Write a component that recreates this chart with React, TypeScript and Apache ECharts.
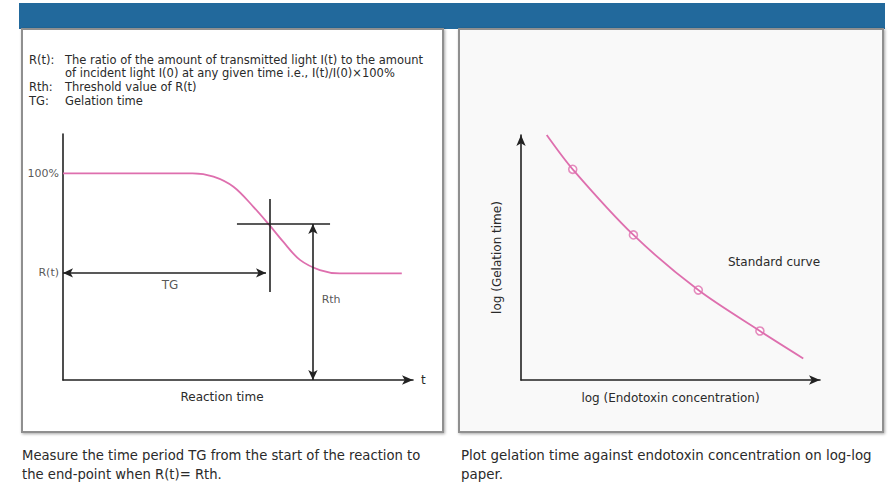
import React, { useEffect, useRef } from 'react';
import * as echarts from 'echarts';

// Left chart: transmittance R(t) versus reaction time
const reactionTime = [0, 37, 43, 48.7, 54.4, 58.7, 62.9, 67.7, 73.4, 79.1, 96.8];
const transmittance = [100, 100, 98.4, 93.5, 83.8, 75.5, 66.9, 58.1, 53.2, 51.6, 51.6];
const gelationTimeTG = 59;
const thresholdRth = 75.5;
const finalR = 51.8;
const rthArrowX = 71.4;

// Right chart: log-log standard curve
const logConc = [8.6, 17.3, 37.6, 59.3, 79.9, 94.4];
const logGelation = [100, 86, 59.2, 36.7, 20, 8.8];
const standardConc = [17.3, 37.6, 59.3, 79.9];
const standardGel = [86, 59.2, 36.7, 20];

const legendKeys = ['R(t):', '', 'Rth:', 'TG:'];
const legendTexts = [
  'The ratio of the amount of transmitted light I(t) to the amount',
  'of incident light I(0) at any given time i.e., I(t)/I(0)×100%',
  'Threshold value of R(t)',
  'Gelation time',
];
const captionLeft = [
  'Measure the time period TG from the start of the reaction to',
  'the end-point when R(t)= Rth.',
];
const captionRight = [
  'Plot gelation time against endotoxin concentration on log-log',
  'paper.',
];

const FONT = '"DejaVu Sans", "Liberation Sans", Arial, sans-serif';
const PINK = '#de6fae';
const INK = '#222';
const TXT = '#2a2a2a';

export default function App() {
  const ref = useRef<HTMLDivElement>(null);
  useEffect(() => {
    if (!ref.current) return;
    const chart = echarts.init(ref.current, undefined, { renderer: 'svg' });

    const txt = (text: string, x: number, y: number, size = 11, align = 'left') => ({
      type: 'text',
      silent: true,
      style: {
        text, x, y, fill: TXT,
        font: `${size}px ${FONT}`,
        textAlign: align, align, textVerticalAlign: 'middle', verticalAlign: 'middle',
      },
    });

    const graphics: any[] = [
      { type: 'rect', silent: true, shape: { x: 19, y: 3, width: 866, height: 26 }, style: { fill: '#22699c' } },
      {
        type: 'rect', silent: true, shape: { x: 22, y: 29, width: 421, height: 403 },
        style: { fill: '#ffffff', stroke: '#8f8f8f', lineWidth: 2, shadowBlur: 3, shadowColor: 'rgba(0,0,0,0.35)', shadowOffsetX: 1, shadowOffsetY: 1 },
      },
      {
        type: 'rect', silent: true, shape: { x: 459, y: 29, width: 424, height: 403 },
        style: { fill: '#f9f9f9', stroke: '#8f8f8f', lineWidth: 2, shadowBlur: 3, shadowColor: 'rgba(0,0,0,0.35)', shadowOffsetX: 1, shadowOffsetY: 1 },
      },
    ];
    const legendY = [60, 73, 87, 101];
    legendKeys.forEach((k, i) => { if (k) graphics.push(txt(k, 29, legendY[i], 11.5)); });
    legendTexts.forEach((t, i) => graphics.push(txt(t, 65, legendY[i], 11.5)));
    graphics.push(txt('Reaction time', 222, 397, 12, 'center'));
    graphics.push(txt('Standard curve', 728, 262, 12));
    captionLeft.forEach((t, i) => graphics.push(txt(t, 22, 455 + i * 19, 13.2)));
    captionRight.forEach((t, i) => graphics.push(txt(t, 461, 455 + i * 19, 13.4)));

    const axisLine = (arrow: boolean) => ({
      show: true,
      symbol: arrow ? ['none', 'arrow'] : ['none', 'none'],
      symbolSize: [7, 11],
      lineStyle: { color: INK, width: 1.6 },
    });
    const hidden = {
      axisTick: { show: false },
      axisLabel: { show: false },
      splitLine: { show: false },
    };
    const lbl = (formatter: string, position: string, fontSize: number) => ({
      show: true, formatter, position, distance: 4, fontSize, fontFamily: FONT,
      color: TXT, textBorderWidth: 0, textBorderColor: 'transparent',
    });

    chart.setOption({
      animation: false,
      backgroundColor: '#ffffff',
      textStyle: { fontFamily: FONT },
      graphic: { elements: graphics },
      grid: [
        { left: 63, top: 134, width: 350, height: 246 },
        { left: 521, top: 135, width: 299, height: 245 },
      ],
      xAxis: [
        {
          type: 'value', gridIndex: 0, min: 0, max: 100, ...hidden,
          axisLine: axisLine(true),
          name: 't', nameLocation: 'end', nameGap: 8,
          nameTextStyle: { color: TXT, fontSize: 12, fontFamily: FONT },
        },
        {
          type: 'value', gridIndex: 1, min: 0, max: 100, ...hidden,
          axisLine: axisLine(true),
          name: 'log (Endotoxin concentration)', nameLocation: 'middle', nameGap: 12,
          nameTextStyle: { color: TXT, fontSize: 12, fontFamily: FONT },
        },
      ],
      yAxis: [
        { type: 'value', gridIndex: 0, min: 0, max: 119, ...hidden, axisLine: axisLine(false) },
        {
          type: 'value', gridIndex: 1, min: 0, max: 100, ...hidden,
          axisLine: axisLine(true),
          name: 'log (Gelation time)', nameLocation: 'middle', nameGap: 18, nameRotate: 90,
          nameTextStyle: { color: TXT, fontSize: 12, fontFamily: FONT },
        },
      ],
      series: [
        {
          type: 'line', xAxisIndex: 0, yAxisIndex: 0, silent: true,
          data: reactionTime.map((x, i) => [x, transmittance[i]]),
          smooth: 0.35, showSymbol: false,
          lineStyle: { color: PINK, width: 1.8 },
          markLine: {
            silent: true, animation: false,
            symbol: ['arrow', 'arrow'], symbolSize: [7, 10],
            lineStyle: { color: INK, width: 1.6, type: 'solid' },
            label: { show: false },
            emphasis: { disabled: true },
            data: [
              [{ coord: [0, finalR] }, { coord: [gelationTimeTG - 1, finalR] }],
              [{ coord: [rthArrowX, thresholdRth] }, { coord: [rthArrowX, 0] }],
              [{ coord: [gelationTimeTG, 87.6], symbol: 'none' }, { coord: [gelationTimeTG, 42.6], symbol: 'none' }],
              [{ coord: [49.7, thresholdRth], symbol: 'none' }, { coord: [76.3, thresholdRth], symbol: 'none' }],
            ],
          },
        },
        {
          type: 'scatter', xAxisIndex: 0, yAxisIndex: 0, silent: true, symbolSize: 0,
          itemStyle: { color: 'transparent' },
          data: [
            { value: [0, 100], label: lbl('100%', 'left', 11) },
            { value: [0, finalR], label: lbl('R(t)', 'left', 11) },
            { value: [30.6, 46], label: lbl('TG', 'inside', 12) },
            { value: [76.6, 38.7], label: lbl('Rth', 'inside', 11) },
          ],
        },
        {
          type: 'line', xAxisIndex: 1, yAxisIndex: 1, silent: true,
          data: logConc.map((x, i) => [x, logGelation[i]]),
          smooth: 0.3, showSymbol: false,
          lineStyle: { color: PINK, width: 1.8 },
        },
        {
          type: 'scatter', xAxisIndex: 1, yAxisIndex: 1, silent: true,
          data: standardConc.map((x, i) => [x, standardGel[i]]),
          symbol: 'circle', symbolSize: 8,
          itemStyle: { color: '#ffffff', borderColor: PINK, borderWidth: 1.6 },
        },
      ],
    });
    return () => chart.dispose();
  }, []);

  return (
    <div
      ref={ref}
      style={{ position: 'fixed', left: 0, top: 0, width: 888, height: 484, background: '#fff' }}
    />
  );
}
